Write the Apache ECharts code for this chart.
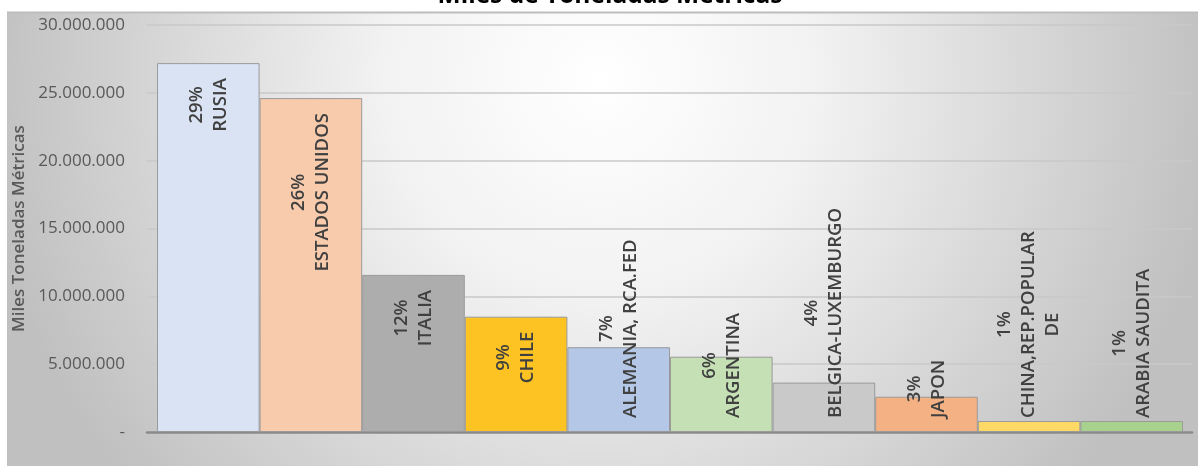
<!DOCTYPE html>
<html>
<head>
<meta charset="utf-8">
<script src="https://cdn.jsdelivr.net/npm/echarts@6.0.0/dist/echarts.min.js"></script>
<style>
  html, body { margin: 0; padding: 0; background: #fff; }
  #chart { width: 1198px; height: 466px; }
</style>
</head>
<body>
<div id="chart"></div>
<script>
// datos
const paises = ['RUSIA', 'ESTADOS UNIDOS', 'ITALIA', 'CHILE', 'ALEMANIA, RCA.FED', 'ARGENTINA',
    'BELGICA-LUXEMBURGO', 'JAPON', 'CHINA,REP.POPULAR\nDE', 'ARABIA SAUDITA'];
const toneladas = [27190000, 24610000, 11580000, 8500000, 6250000, 5550000, 3640000, 2600000, 810000, 810000];
const porcentajes = ['29%', '26%', '12%', '9%', '7%', '6%', '4%', '3%', '1%', '1%'];
const colores = ['#dae3f3', '#f8cbad', '#adadad', '#fdc323', '#b4c7e7', '#c5e0b4', '#c9c9c9', '#f4b183', '#ffd966', '#a9d18e'];
const ticksY = [0, 5000000, 10000000, 15000000, 20000000, 25000000, 30000000];

const fuente = 'Open Sans';

function miles(v) {
    if (v === 0) return '-';
    return String(v).replace(/\B(?=(\d{3})+(?!\d))/g, '.');
}

// etiqueta: barras altas desde arriba, bajas desde abajo
let datos = toneladas.map(function (v, i) {
    let arriba = v > 8000000;
    let lineas = [porcentajes[i]].concat(paises[i].split('\n'));
    return {
        value: v,
        itemStyle: { color: colores[i] },
        label: {
            position: arriba ? 'insideTop' : 'insideBottom',
            distance: arriba ? 15 : 14,
            align: arriba ? 'right' : 'left',
            formatter: lineas.map(function (t) { return '{c|' + t + '}'; }).join('\n')
        }
    };
});

let options = {
    animation: false,
    backgroundColor: '#ffffff',
    graphic: [
        {
            type: 'rect',
            z: -10,
            shape: { x: 7, y: 13, width: 1191, height: 453 },
            style: {
                fill: new echarts.graphic.RadialGradient(600, 80, 620, [
                    { offset: 0, color: '#ffffff' },
                    { offset: 0.35, color: '#f2f2f2' },
                    { offset: 1, color: '#c0c0c0' }
                ], true)
            }
        },
        {
            type: 'line',
            z: -5,
            shape: { x1: 7, y1: 12.5, x2: 1198, y2: 12.5 },
            style: { stroke: '#bdbdbd', lineWidth: 2 }
        },
        {
            type: 'text',
            x: 610,
            y: -4,
            style: {
                text: 'Miles de Toneladas Métricas',
                fontFamily: fuente,
                fontSize: 24.5,
                fontWeight: 'bold',
                fill: '#000000',
                textAlign: 'center',
                textVerticalAlign: 'middle'
            }
        }
    ],
    grid: [
        { left: 157, right: 15, top: 25, bottom: 34 },
        { left: 147, right: 6, top: 25, bottom: 34 }
    ],
    xAxis: [
        {
            type: 'category',
            gridIndex: 0,
            data: paises,
            axisLine: { show: false },
            axisTick: { show: false },
            axisLabel: { show: false }
        },
        {
            type: 'value',
            gridIndex: 1,
            min: 0,
            max: 1,
            axisLine: { show: true, lineStyle: { color: '#8a8a8a', width: 2.5 } },
            axisTick: { show: false },
            axisLabel: { show: false },
            splitLine: { show: false }
        }
    ],
    yAxis: [
        {
            type: 'value',
            gridIndex: 0,
            min: 0,
            max: 30000000,
            interval: 5000000,
            show: false
        },
        {
            type: 'value',
            gridIndex: 1,
            min: 0,
            max: ticksY[ticksY.length - 1],
            interval: ticksY[1],
            name: 'Miles Toneladas Métricas',
            nameLocation: 'middle',
            nameRotate: 90,
            nameGap: 110,
            nameTextStyle: { color: '#595959', fontFamily: fuente, fontSize: 17, fontWeight: 600 },
            axisLine: { show: false },
            axisTick: { show: false },
            axisLabel: {
                color: '#595959',
                fontFamily: fuente,
                fontSize: 17,
                margin: 22,
                formatter: miles
            },
            splitLine: { lineStyle: { color: '#c8c8c8', width: 1.5 } }
        }
    ],
    series: [
        {
            type: 'bar',
            xAxisIndex: 0,
            yAxisIndex: 0,
            data: datos,
            barCategoryGap: '0%',
            itemStyle: { borderColor: '#9a9a9a', borderWidth: 1 },
            label: {
                show: true,
                rotate: 90,
                verticalAlign: 'middle',
                lineHeight: 24,
                rich: {
                    c: {
                        align: 'center',
                        fontFamily: fuente,
                        fontSize: 18.5,
                        fontWeight: 600,
                        color: '#404040',
                        lineHeight: 24
                    }
                }
            }
        }
    ]
};

const chart = echarts.init(document.getElementById('chart'));
chart.setOption(options);
</script>
</body>
</html>
